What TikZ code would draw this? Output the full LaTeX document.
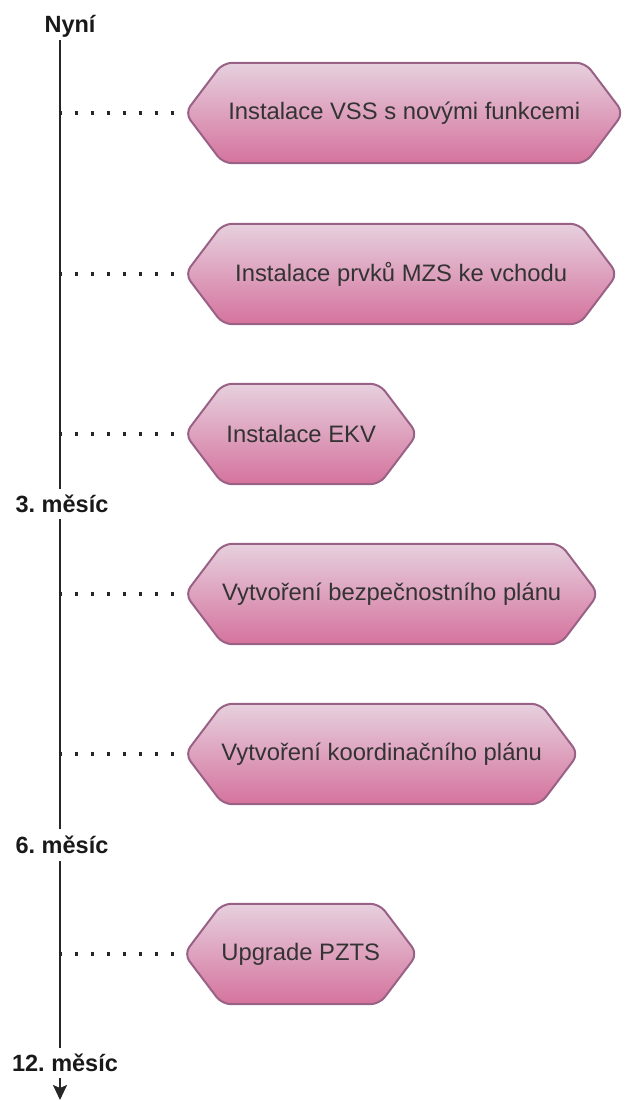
\documentclass[tikz,border=0pt]{standalone}
\usepackage{fontspec}
\setmainfont{Liberation Sans}
\frenchspacing
\usetikzlibrary{arrows.meta,calc,backgrounds}
\definecolor{pinkfill}{HTML}{E6D0DE}
\definecolor{pinkgrad}{HTML}{D5739D}
\definecolor{pinkstroke}{HTML}{996185}
\definecolor{txtgray}{HTML}{333333}
\newcommand\hexof[1]{%
  \path[hexa] (#1.west) -- ([xshift=38pt]#1.north west) -- ([xshift=-38pt]#1.north east)
    -- (#1.east) -- ([xshift=-38pt]#1.south east) -- ([xshift=38pt]#1.south west) -- cycle;}
\begin{document}
\begin{tikzpicture}[x=1pt,y=-1pt,
  task/.style={minimum height=100pt, inner sep=0pt, anchor=west,
    font=\fontsize{23.8}{28}\selectfont, text=txtgray},
  hexa/.style={top color=pinkfill, bottom color=pinkgrad, draw=pinkstroke,
    line width=2pt, rounded corners=9pt},
  tlabel/.style={font=\bfseries\fontsize{23.5}{28}\selectfont, text=black!90,
    text height=17pt, text depth=0pt, inner sep=0pt},
  axis/.style={line width=2pt, draw=black!85},
  dots/.style={line width=4pt, dash pattern=on 3.5pt off 12.5pt, draw=black!85}]
\useasboundingbox (0,0) rectangle (627,1101);

% timeline labels
\node[tlabel] (nyni) at (70,24) {Nyní};
\node[tlabel, minimum height=30pt] (m3) at (62,504) {3. měsíc};
\node[tlabel, minimum height=32pt] (m6) at (62,845) {6. měsíc};
\node[tlabel, minimum height=30pt] (m12) at (65,1063) {12. měsíc};
\coordinate (start) at (60,40);
\coordinate (end) at (60,1100);

% tasks
\node[task, minimum width=438pt] (s1) at (185,113) {Instalace VSS s novými funkcemi};
\node[task, minimum width=432pt] (s2) at (185,274) {Instalace prvků MZS ke vchodu};
\node[task, minimum width=232pt] (s3) at (185,434) {Instalace EKV};
\node[task, minimum width=413pt] (s4) at (185,594) {Vytvoření bezpečnostního plánu};
\node[task, minimum width=393pt] (s5) at (185,754) {Vytvoření koordinačního plánu};
\node[task, minimum width=233pt] (s6) at (184,954) {Upgrade PZTS};

\begin{scope}[on background layer]
  \hexof{s1}\hexof{s2}\hexof{s3}\hexof{s4}\hexof{s5}\hexof{s6}
  \foreach \s in {s1,s2,s3,s4,s5,s6}
    \draw[dots] ([xshift=-1.5pt]start |- \s.west) -- (\s.west);
\end{scope}

% axis
\draw[axis] (start) -- (m3.north -| start);
\draw[axis] (m3.south -| start) -- (m6.north -| start);
\draw[axis] (m6.south -| start) -- (m12.north -| start);
\draw[axis, -{Stealth[length=15pt,width=14pt,inset=3pt]}] (m12.south -| start) -- (end);
\end{tikzpicture}
\end{document}
